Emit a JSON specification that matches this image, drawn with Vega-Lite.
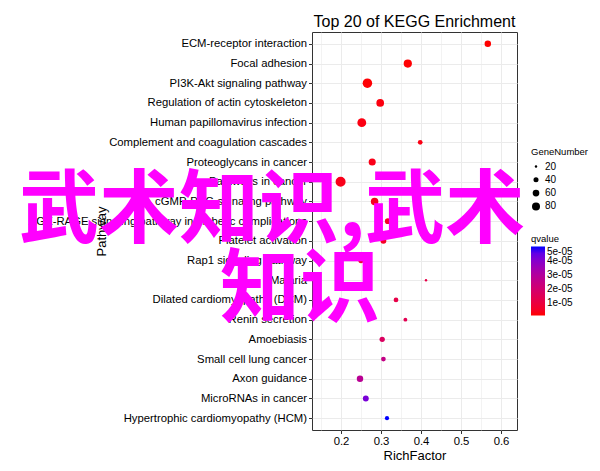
{
  "$schema": "https://vega.github.io/schema/vega-lite/v6.json",
  "autosize": {"type": "none"},
  "padding": {"left": 312, "top": 32, "right": 83, "bottom": 41},
  "width": 205,
  "height": 398,
  "title": {"text": "Top 20 of KEGG Enrichment", "fontSize": 16, "fontWeight": "normal", "color": "#000000", "anchor": "middle", "frame": "group", "baseline": "bottom", "offset": 5, "dy": 19},
  "config": {
    "font": "Liberation Sans",
    "view": {"stroke": "#333333", "strokeWidth": 1},
    "legend": {"padding": 0, "titleFontWeight": "normal", "titleColor": "#000000", "labelColor": "#000000"}
  },
  "datasets": {
    "kegg": [
      {"Pathway": "ECM-receptor interaction", "RichFactor": 0.567, "GeneNumber": 57, "qvalue": 1.3e-6},
      {"Pathway": "Focal adhesion", "RichFactor": 0.367, "GeneNumber": 84, "qvalue": 1.5e-6},
      {"Pathway": "PI3K-Akt signaling pathway", "RichFactor": 0.266, "GeneNumber": 107, "qvalue": 1.6e-6},
      {"Pathway": "Regulation of actin cytoskeleton", "RichFactor": 0.298, "GeneNumber": 75, "qvalue": 2.5e-6},
      {"Pathway": "Human papillomavirus infection", "RichFactor": 0.252, "GeneNumber": 95, "qvalue": 2.8e-6},
      {"Pathway": "Complement and coagulation cascades", "RichFactor": 0.398, "GeneNumber": 37, "qvalue": 3.0e-6},
      {"Pathway": "Proteoglycans in cancer", "RichFactor": 0.278, "GeneNumber": 66, "qvalue": 3.5e-6},
      {"Pathway": "Pathways in cancer", "RichFactor": 0.199, "GeneNumber": 118, "qvalue": 3.8e-6},
      {"Pathway": "cGMP-PKG signaling pathway", "RichFactor": 0.284, "GeneNumber": 73, "qvalue": 4.5e-6},
      {"Pathway": "AGE-RAGE signaling pathway in diabetic complications", "RichFactor": 0.317, "GeneNumber": 48, "qvalue": 5.0e-6},
      {"Pathway": "Platelet activation", "RichFactor": 0.306, "GeneNumber": 50, "qvalue": 5.5e-6},
      {"Pathway": "Rap1 signaling pathway", "RichFactor": 0.25, "GeneNumber": 43, "qvalue": 6.0e-6},
      {"Pathway": "Malaria", "RichFactor": 0.4125, "GeneNumber": 20, "qvalue": 1.2e-5},
      {"Pathway": "Dilated cardiomyopathy (DCM)", "RichFactor": 0.3375, "GeneNumber": 37, "qvalue": 1.2e-5},
      {"Pathway": "Renin secretion", "RichFactor": 0.361, "GeneNumber": 29, "qvalue": 1.4e-5},
      {"Pathway": "Amoebiasis", "RichFactor": 0.303, "GeneNumber": 43, "qvalue": 1.7e-5},
      {"Pathway": "Small cell lung cancer", "RichFactor": 0.306, "GeneNumber": 37, "qvalue": 2.5e-5},
      {"Pathway": "Axon guidance", "RichFactor": 0.2475, "GeneNumber": 57, "qvalue": 2.8e-5},
      {"Pathway": "MicroRNAs in cancer", "RichFactor": 0.262, "GeneNumber": 50, "qvalue": 4.2e-5},
      {"Pathway": "Hypertrophic cardiomyopathy (HCM)", "RichFactor": 0.315, "GeneNumber": 32, "qvalue": 5.0e-5}
    ],
    "overlay": [
      {"label": "武术知识,武术", "RichFactor": 0.0275, "Pathway": "cGMP-PKG signaling pathway"},
      {"label": "知识", "RichFactor": 0.0975, "Pathway": "Malaria"}
    ]
  },
  "encoding": {
    "y": {
      "field": "Pathway", "type": "nominal", "sort": null,
      "scale": {"type": "point", "padding": 0.6},
      "axis": {
        "title": "Pathway", "titleFontSize": 13, "titleFontWeight": "normal", "titleColor": "#000000",
        "labelFontSize": 11.3, "labelColor": "#000000", "labelPadding": 2, "labelLimit": 400,
        "domain": false, "tickColor": "#333333", "tickSize": 3.5,
        "grid": true, "gridColor": "#EBEBEB", "gridWidth": 1
      }
    },
    "x": {
      "field": "RichFactor", "type": "quantitative",
      "scale": {"domain": [0.1275, 0.64], "nice": false, "zero": false},
      "axis": {
        "title": "RichFactor", "titleFontSize": 13, "titleFontWeight": "normal", "titleColor": "#000000", "titlePadding": 3,
        "values": [0.15, 0.2, 0.25, 0.3, 0.35, 0.4, 0.45, 0.5, 0.55, 0.6],
        "labelExpr": "round(datum.value*20) % 2 == 1 ? '' : format(datum.value, '.1f')",
        "labelFontSize": 11.3, "labelColor": "#000000", "labelPadding": 2,
        "domain": false, "tickColor": "#333333", "tickSize": 3.5,
        "tickOpacity": {"condition": {"test": "round(datum.value*20) % 2 == 1", "value": 0}, "value": 1},
        "grid": true, "gridColor": "#EBEBEB",
        "gridWidth": {"condition": {"test": "round(datum.value*20) % 2 == 1", "value": 0.6}, "value": 1}
      }
    }
  },
  "layer": [
    {
      "data": {"name": "kegg"},
      "mark": {"type": "circle", "opacity": 1, "strokeWidth": 0},
      "encoding": {
        "size": {
          "field": "GeneNumber", "type": "quantitative",
          "scale": {"domain": [20, 80], "range": [6, 64], "zero": false},
          "legend": {"title": "GeneNumber", "values": [20, 40, 60, 80], "orient": "none", "legendX": 219, "legendY": 115, "titleFontSize": 9.5, "labelFontSize": 10, "symbolFillColor": "#000000", "symbolStrokeWidth": 0, "symbolOpacity": 1, "rowPadding": 3.3, "titlePadding": 5}
        },
        "color": {
          "field": "qvalue", "type": "quantitative",
          "scale": {"domain": [1.3e-6, 5.0e-5], "range": ["#FF0000", "#0000FF"], "interpolate": "lab"},
          "legend": {"title": "qvalue", "orient": "none", "legendX": 219, "legendY": 202, "values": [1e-5, 2e-5, 3e-5, 4e-5, 5e-5], "labelExpr": "replace(format(datum.value, '.0e'), 'e-', 'e-0')", "labelOverlap": false, "gradientLength": 69, "gradientThickness": 14, "titleFontSize": 9.5, "labelFontSize": 10, "titlePadding": 3, "gradientStrokeWidth": 0}
        }
      }
    },
    {
      "data": {"name": "overlay"},
      "mark": {"type": "text", "font": "Noto Sans CJK SC", "fontWeight": "bold", "fontSize": 80, "color": "#FF00FF", "align": "center", "baseline": "middle", "dy": 11},
      "encoding": {
        "text": {"field": "label"}
      }
    }
  ]
}
